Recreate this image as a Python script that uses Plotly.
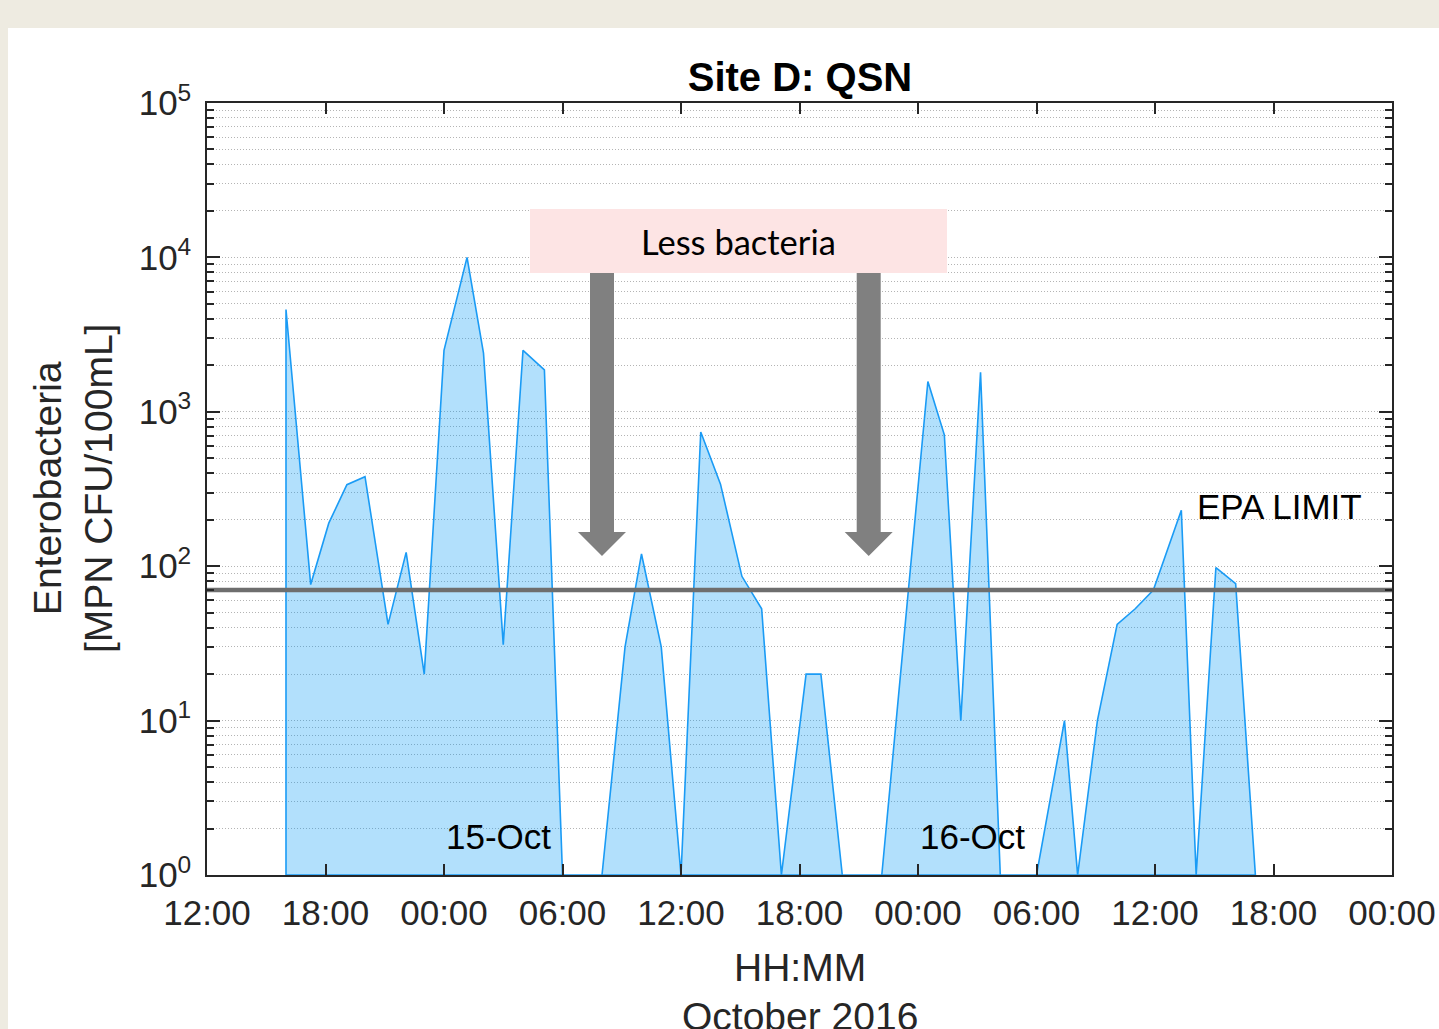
import plotly.graph_objects as go

# sample times and Enterobacteria counts (1 = at the axis floor / none detected)
times = [
    '2016-10-14 16:00', '2016-10-14 17:15', '2016-10-14 18:10', '2016-10-14 19:05',
    '2016-10-14 20:00', '2016-10-14 21:10', '2016-10-14 22:05', '2016-10-14 23:00',
    '2016-10-15 00:00', '2016-10-15 01:10', '2016-10-15 02:00', '2016-10-15 03:00',
    '2016-10-15 04:00', '2016-10-15 05:05', '2016-10-15 06:00', '2016-10-15 08:00',
    '2016-10-15 09:10', '2016-10-15 10:00', '2016-10-15 11:00', '2016-10-15 12:00',
    '2016-10-15 13:00', '2016-10-15 14:00', '2016-10-15 15:05', '2016-10-15 16:05',
    '2016-10-15 17:05', '2016-10-15 18:20', '2016-10-15 19:05', '2016-10-15 20:10',
    '2016-10-15 22:10', '2016-10-16 00:30', '2016-10-16 01:20', '2016-10-16 02:10',
    '2016-10-16 03:10', '2016-10-16 04:10', '2016-10-16 06:00', '2016-10-16 07:25',
    '2016-10-16 08:05', '2016-10-16 09:05', '2016-10-16 10:05', '2016-10-16 11:00',
    '2016-10-16 11:55', '2016-10-16 13:20', '2016-10-16 14:05', '2016-10-16 15:05',
    '2016-10-16 16:05', '2016-10-16 17:05',
]
counts = [
    4600, 76, 190, 337,
    380, 42, 123, 20,
    2500, 10000, 2400, 31,
    2500, 1870, 1, 1,
    30, 120, 30, 1,
    740, 340, 86, 53,
    1, 20, 20, 1,
    1, 1570, 710, 10,
    1800, 1, 1, 10,
    1, 10, 42, 53,
    70, 230, 1, 98,
    77, 1,
]

EPA_LIMIT = 70
x_start = '2016-10-14 12:00'
x_end = '2016-10-17 00:00'
tick_times = ['2016-10-14 12:00', '2016-10-14 18:00', '2016-10-15 00:00', '2016-10-15 06:00',
              '2016-10-15 12:00', '2016-10-15 18:00', '2016-10-16 00:00', '2016-10-16 06:00',
              '2016-10-16 12:00', '2016-10-16 18:00', '2016-10-17 00:00']
tick_text = ['12:00', '18:00', '00:00', '06:00', '12:00', '18:00', '00:00', '06:00',
             '12:00', '18:00', '00:00']
decades = [1, 10, 100, 1000, 10000, 100000]
decade_text = ['10<sup>%d</sup>' % i for i in range(6)]
minor_vals = [m * d for d in decades[:-1] for m in range(2, 10)]

FONT = 'Liberation Sans'
AX = '#262626'
GRID = '#B4B4B4'


def px(x):
    return (x - 207) / 1185.0


def py(y):
    return (875 - y) / 772.0


def label(text, x, y, size=35, color='black', family=FONT, xref='paper', angle=0):
    return dict(text=text, xref=xref, yref='paper', x=x, y=y, textangle=angle,
                xanchor='center', yanchor='middle', showarrow=False,
                font=dict(family=family, size=size, color=color))


# closed area polygon down to the floor, like MATLAB area()
area_x = [times[0]] + times + [times[-1], times[0]]
area_y = [1] + counts + [1, 1]

fig = go.Figure()
fig.add_trace(go.Scatter(
    x=area_x, y=area_y, mode='lines', fill='toself',
    fillcolor='rgba(0,153,245,0.3)',
    line=dict(color='#1A9BF5', width=1.6),
    hoverinfo='skip', showlegend=False))
fig.add_trace(go.Scatter(
    x=[x_start, x_end], y=[EPA_LIMIT, EPA_LIMIT], mode='lines',
    line=dict(color='#6E6E6E', width=4.5), showlegend=False))

shapes = [
    # white slide panel on the beige background
    dict(type='rect', xref='paper', yref='paper', x0=px(8), x1=1.2, y0=-0.4, y1=py(28),
         fillcolor='white', line=dict(width=0), layer='below'),
    # "Less bacteria" box
    dict(type='rect', xref='paper', yref='paper', x0=px(530), x1=px(947), y0=py(273), y1=py(209),
         fillcolor='#FDE4E4', line=dict(width=0), layer='above'),
]
for c in [602, 868.7]:
    pts = [(c - 12, 273), (c + 12, 273), (c + 12, 532), (c + 24, 532), (c, 556),
           (c - 24, 532), (c - 12, 532)]
    path = 'M ' + ' L '.join('%f,%f' % (px(a), py(b)) for a, b in pts) + ' Z'
    shapes.append(dict(type='path', xref='paper', yref='paper', path=path,
                       fillcolor='#808080', line=dict(width=0), layer='above'))

annotations = [
    label('Less bacteria', px(738), py(242), size=34.5, family='Lato'),
    label('EPA LIMIT', px(1279), py(506)),
    label('15-Oct', '2016-10-15 02:45', py(836), xref='x'),
    label('16-Oct', '2016-10-16 02:45', py(836), xref='x'),
    label('Enterobacteria<br>[MPN CFU/100mL]', px(73), py(489), size=39, color=AX, angle=-90),
    label('HH:MM', px(800), py(967), size=39, color=AX),
    label('October 2016', px(800), py(1016), size=39, color=AX),
]

fig.update_layout(
    width=1439, height=1029, autosize=False,
    margin=dict(l=207, r=47, t=103, b=154),
    paper_bgcolor='#EEEBE1', plot_bgcolor='white',
    title=dict(text='<b>Site D: QSN</b>', xref='paper', x=px(800), xanchor='center',
               yref='container', y=(1029 - 77) / 1029.0, yanchor='middle',
               font=dict(family=FONT, size=40, color='black')),
    shapes=shapes, annotations=annotations,
    showlegend=False,
    xaxis=dict(
        type='date', range=[x_start, x_end], automargin=False,
        tickmode='array', tickvals=tick_times, ticktext=tick_text,
        ticks='inside', ticklen=11, tickwidth=1.5, tickcolor=AX,
        showline=True, linecolor=AX, linewidth=1.5, mirror='ticks',
        showgrid=False, zeroline=False, ticklabelstandoff=6,
        tickfont=dict(family=FONT, size=35, color=AX)),
    yaxis=dict(
        type='log', range=[0, 5], automargin=False,
        tickmode='array', tickvals=decades, ticktext=decade_text,
        ticks='inside', ticklen=13, tickwidth=1.5, tickcolor=AX,
        showline=True, linecolor=AX, linewidth=1.5, mirror='ticks',
        showgrid=True, gridcolor=GRID, griddash='1px,2px', gridwidth=1,
        zeroline=False, ticklabelstandoff=7,
        minor=dict(tickmode='array', tickvals=minor_vals, ticks='inside', ticklen=7,
                   tickwidth=1.5, tickcolor=AX, showgrid=True,
                   gridcolor=GRID, griddash='1px,2px', gridwidth=1),
        tickfont=dict(family=FONT, size=35, color=AX)),
)

fig.write_html('out.html', config={'displayModeBar': False},
               post_script="document.body.style.margin='0';")
